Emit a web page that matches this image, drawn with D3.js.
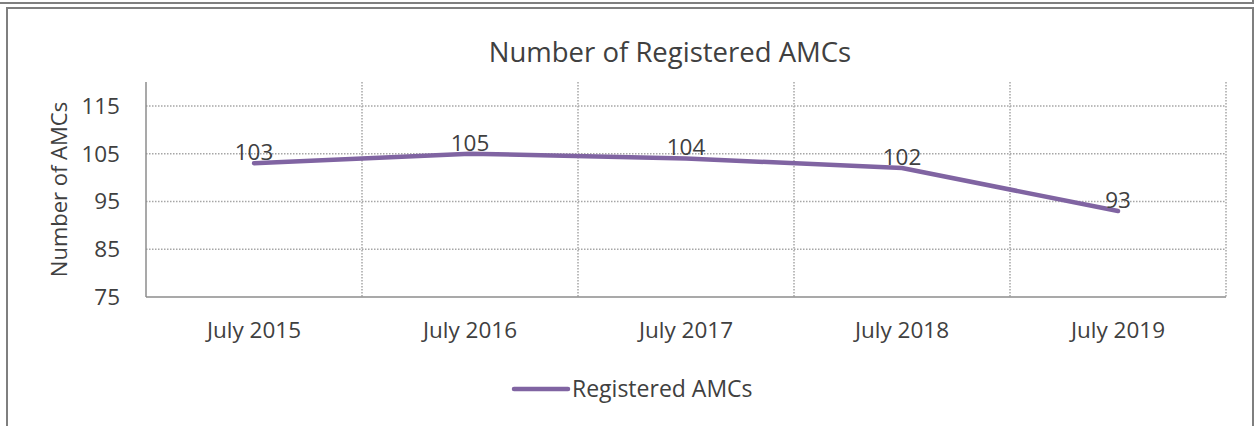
<!DOCTYPE html>
<html>
<head>
<meta charset="utf-8">
<script src="https://cdn.jsdelivr.net/npm/d3@7"></script>
<style>
  body { margin: 0; background: #fff; }
  svg { display: block; font-family: "Open Sans", sans-serif; }
</style>
</head>
<body>
<div id="chart"></div>
<script>
"use strict"

// chart data
const categories = ["July 2015", "July 2016", "July 2017", "July 2018", "July 2019"];
const registeredAMCs = [103, 105, 104, 102, 93];
const yTicks = [75, 85, 95, 105, 115];
const seriesName = "Registered AMCs";
const chartTitle = "Number of Registered AMCs";
const yTitle = "Number of AMCs";

const width = 1255, height = 426;
const margin = { top: 82, right: 29, bottom: 129, left: 146 };
const innerW = width - margin.left - margin.right,
      innerH = height - margin.top - margin.bottom;

const textColor = "#404040";
const lineColor = "#8064a2";
const gridColor = "#a6a6a6";
const labelSize = "22.5px";

const svg = d3.select("#chart")
    .append("svg")
    .attr("width", width)
    .attr("height", height);

// outer frames
svg.append("rect")
    .attr("x", -5).attr("y", -10)
    .attr("width", width + 3).attr("height", 13)
    .attr("fill", "none").attr("stroke", "#7f7f7f").attr("stroke-width", 2);
svg.append("rect")
    .attr("x", 7).attr("y", 8)
    .attr("width", 1246).attr("height", 430)
    .attr("fill", "none").attr("stroke", "#7f7f7f").attr("stroke-width", 2);

const g = svg.append("g")
    .attr("transform", "translate(" + margin.left + "," + margin.top + ")");

// scales
const x = d3.scaleBand()
    .domain(categories)
    .range([0, innerW]);
const y = d3.scaleLinear()
    .domain([75, 120])
    .range([innerH, 0]);

// horizontal gridlines
g.append("g")
    .selectAll("line")
    .data(yTicks.slice(1))
    .enter()
    .append("line")
    .attr("x1", 0).attr("x2", innerW)
    .attr("y1", d => y(d)).attr("y2", d => y(d))
    .attr("stroke", gridColor)
    .attr("stroke-width", 1.5)
    .attr("stroke-dasharray", "1.5,1.5");

// vertical gridlines between categories
g.append("g")
    .selectAll("line")
    .data(categories)
    .enter()
    .append("line")
    .attr("x1", d => x(d) + x.bandwidth()).attr("x2", d => x(d) + x.bandwidth())
    .attr("y1", 0).attr("y2", innerH)
    .attr("stroke", gridColor)
    .attr("stroke-width", 1.5)
    .attr("stroke-dasharray", "1.5,1.5");

// axes lines
g.append("line")
    .attr("x1", 0).attr("x2", 0).attr("y1", 0).attr("y2", innerH)
    .attr("stroke", "#8c8c8c").attr("stroke-width", 1.5);
g.append("line")
    .attr("x1", 0).attr("x2", innerW).attr("y1", innerH).attr("y2", innerH)
    .attr("stroke", "#8c8c8c").attr("stroke-width", 1.5);

// y tick labels
g.append("g")
    .selectAll("text")
    .data(yTicks)
    .enter()
    .append("text")
    .attr("x", -26)
    .attr("y", d => y(d))
    .attr("dy", "0.35em")
    .attr("text-anchor", "end")
    .attr("fill", textColor)
    .style("font-size", labelSize)
    .text(d => d);

// x tick labels
g.append("g")
    .selectAll("text")
    .data(categories)
    .enter()
    .append("text")
    .attr("x", d => x(d) + x.bandwidth() / 2)
    .attr("y", innerH + 41)
    .attr("text-anchor", "middle")
    .attr("fill", textColor)
    .style("font-size", labelSize)
    .text(d => d);

// the line
const line = d3.line()
    .x((d, i) => x(categories[i]) + x.bandwidth() / 2)
    .y(d => y(d));

g.append("path")
    .datum(registeredAMCs)
    .attr("fill", "none")
    .attr("stroke", lineColor)
    .attr("stroke-width", 4.5)
    .attr("stroke-linecap", "round")
    .attr("stroke-linejoin", "round")
    .attr("d", line);

// data labels
g.append("g")
    .selectAll("text")
    .data(registeredAMCs)
    .enter()
    .append("text")
    .attr("x", (d, i) => x(categories[i]) + x.bandwidth() / 2)
    .attr("y", d => y(d) - 3)
    .attr("text-anchor", "middle")
    .attr("fill", textColor)
    .style("font-size", labelSize)
    .text(d => d);

// title
svg.append("text")
    .attr("x", 670)
    .attr("y", 62)
    .attr("text-anchor", "middle")
    .attr("fill", textColor)
    .style("font-size", "27.5px")
    .text(chartTitle);

// y axis title
svg.append("text")
    .attr("transform", "translate(67," + (margin.top + innerH / 2) + ") rotate(-90)")
    .attr("text-anchor", "middle")
    .attr("fill", textColor)
    .style("font-size", "22px")
    .text(yTitle);

// legend
const legend = svg.append("g");
legend.append("line")
    .attr("x1", 514).attr("x2", 568)
    .attr("y1", 389).attr("y2", 389)
    .attr("stroke", lineColor)
    .attr("stroke-width", 4.5)
    .attr("stroke-linecap", "round");
legend.append("text")
    .attr("x", 572)
    .attr("y", 389)
    .attr("dy", "0.35em")
    .attr("fill", textColor)
    .style("font-size", "23px")
    .text(seriesName);
</script>
</body>
</html>
